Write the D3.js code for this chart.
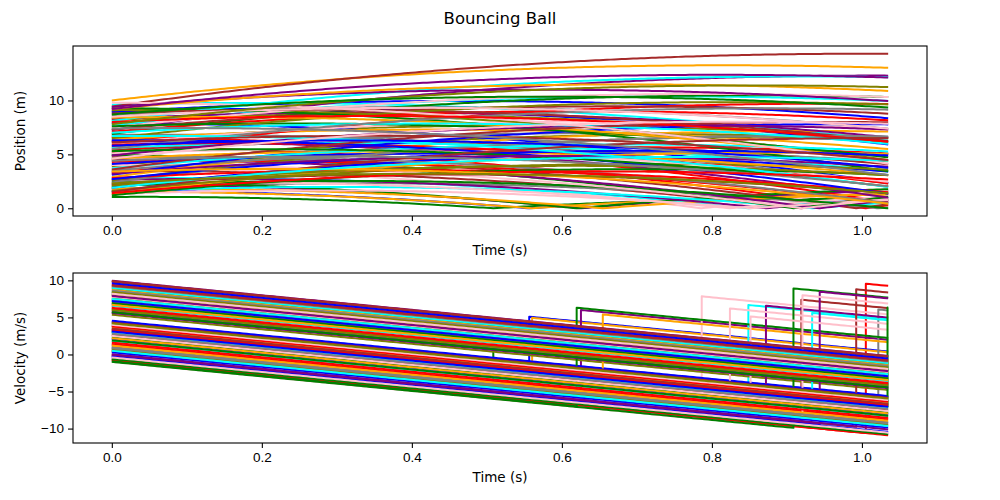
<!DOCTYPE html>
<html>
<head>
<meta charset="utf-8">
<script src="https://cdn.jsdelivr.net/npm/d3@7"></script>
<style>
  body { margin: 0; background: #fff; }
  svg { font-family: "DejaVu Sans", sans-serif; }
  .axis text { font-size: 13.5px; fill: #000; }
  .axis path, .axis line { stroke: #000; stroke-width: 1.1px; }
</style>
</head>
<body>
<div id="chart"></div>
<script>
// colour cycle, one colour per ball (index % 10)
const colorCycle = ["red", "blue", "green", "orange", "purple", "cyan", "brown", "pink", "gray", "olive"];

// starting height (m) of each ball at t = 0
const startHeights = [
  5.71, 1.63, 1.05, 1.54, 2.25, 2.76, 3.40, 3.82, 1.78, 6.2,
  6.6, 8.9, 2.46, 1.82, 2.64, 1.54, 4.86, 2.35, 5.0, 3.9,
  3.3, 9.0, 4.95, 10.0, 4.51, 9.6, 9.44, 1.30, 6.8, 8.2,
  4.3, 7.9, 2.05, 6.4, 7.26, 7.7, 5.4, 4.02, 8.6, 2.6,
  5.2, 1.9, 6.9, 2.9, 8.3, 5.6, 7.3, 6.0, 3.5, 9.1,
  7.1, 4.1, 9.3, 1.3, 6.2, 8.1, 2.2, 7.5, 4.7, 1.6,
  5.9, 3.1, 7.6, 4.6, 9.4, 3.7, 8.8, 5.1, 2.4, 6.5,
  2.8, 6.3, 1.2, 8.4, 4.9, 7.0, 3.6, 9.8, 5.5, 2.1,
  8.0, 2.7, 5.3, 9.2, 3.2, 6.7, 1.5, 8.5, 4.4, 7.8,
  1.4, 5.8, 8.7, 3.4, 9.2, 1.9, 6.1, 4.6, 7.4, 2.3
];

// starting velocity (m/s) of each ball at t = 0
const startVelocities = [
  -0.75, -0.2, 0.43, 0.0, -0.53, 0.91, 0.81, -1.0, 3.27, 5.36,
  -0.75, 4.55, -0.93, 0.43, 1.25, 2.93, -0.03, 1.19, 6.2, 7.6,
  6.8, 2.1, -0.99, 8.0, -0.15, 1.85, 9.8, 2.65, 0.72, 3.1,
  1.4, -0.3, 3.09, 4.2, 9.95, 7.25, 3.8, 0.15, 3.9, 8.9,
  9.4, 8.1, 8.38, 9.15, 3.42, 2.97, 6.5, 6.35, 5.9, 0.6,
  6.1, 4.4, -0.6, 8.7, 0.04, 9.0, 4.3, 7.8, 1.0, 7.0,
  1.6, 9.6, 2.3, 3.6, 5.6, 6.6, 2.6, 2.52, 9.2, 8.1,
  3.8, 0.3, 6.9, 1.2, 7.4, 4.1, 9.3, -0.4, 8.6, 6.0,
  3.3, 7.2, 1.9, 6.7, 5.7, 0.5, 9.9, 4.0, 2.8, 8.4,
  6.3, 3.1, 5.7, 2.2, 7.9, 7.5, 3.5, 8.2, 0.9, 4.2
];

const xTicks = [0, 0.2, 0.4, 0.6, 0.8, 1.0];
const positionTicks = [0, 5, 10];
const velocityTicks = [-10, -5, 0, 5, 10];

const gravity = 9.81;
const restitution = 0.9;
const endTime = 1.035;
const step = 0.005;

// run one ball forward, bouncing on the floor
function simulate(y0, v0) {
  const pts = [];
  let t0 = 0, y = y0, v = v0;
  while (t0 < endTime) {
    const hit = (v + Math.sqrt(v * v + 2 * gravity * y)) / gravity;
    const tb = t0 + hit;
    const segEnd = Math.min(tb, endTime);
    for (let t = t0; t < segEnd - 1e-9; t += step) {
      const s = t - t0;
      pts.push({ t: t, y: Math.max(0, y + v * s - 0.5 * gravity * s * s), v: v - gravity * s });
    }
    if (tb <= endTime) {
      const vBefore = v - gravity * hit;
      pts.push({ t: tb, y: 0, v: vBefore });
      v = -restitution * vBefore;
      y = 0;
      t0 = tb;
      pts.push({ t: tb, y: 0, v: v });
    } else {
      const s = endTime - t0;
      pts.push({ t: endTime, y: y + v * s - 0.5 * gravity * s * s, v: v - gravity * s });
      break;
    }
  }
  return pts;
}

const balls = startHeights.map((h, i) => ({
  color: colorCycle[i % colorCycle.length],
  points: simulate(h, startVelocities[i])
}));

const W = 1000, H = 500;
const left = 73, right = 927;
const panels = [
  { key: "y", label: "Position (m)", top: 46, bottom: 216, ticks: positionTicks },
  { key: "v", label: "Velocity (m/s)", top: 273, bottom: 443, ticks: velocityTicks }
];

const svg = d3.select("#chart").append("svg")
  .attr("width", W)
  .attr("height", H);

svg.append("text")
  .attr("x", W / 2)
  .attr("y", 24)
  .attr("text-anchor", "middle")
  .style("font-size", "16.5px")
  .text("Bouncing Ball");

const pad = endTime * 0.05;
const x = d3.scaleLinear()
  .domain([-pad, endTime + pad])
  .range([left, right]);

panels.forEach(p => {
  const all = balls.flatMap(b => b.points.map(d => d[p.key]));
  const [lo, hi] = d3.extent(all);
  const m = (hi - lo) * 0.05;
  const y = d3.scaleLinear()
    .domain([lo - m, hi + m])
    .range([p.bottom, p.top]);

  const g = svg.append("g");
  const line = d3.line()
    .x(d => x(d.t))
    .y(d => y(d[p.key]));

  g.selectAll("path.ball")
    .data(balls)
    .join("path")
    .attr("class", "ball")
    .attr("fill", "none")
    .attr("stroke", d => d.color)
    .attr("stroke-width", 2)
    .attr("stroke-linejoin", "round")
    .attr("d", d => line(d.points));

  g.append("rect")
    .attr("x", left)
    .attr("y", p.top)
    .attr("width", right - left)
    .attr("height", p.bottom - p.top)
    .attr("fill", "none")
    .attr("stroke", "#000")
    .attr("stroke-width", 1.1);

  svg.append("g")
    .attr("class", "axis")
    .attr("transform", `translate(0,${p.bottom})`)
    .call(d3.axisBottom(x).tickValues(xTicks).tickFormat(d3.format(".1f")).tickSizeOuter(0).tickSize(5).tickPadding(4))
    .call(a => a.select(".domain").remove());

  svg.append("g")
    .attr("class", "axis")
    .attr("transform", `translate(${left},0)`)
    .call(d3.axisLeft(y).tickValues(p.ticks).tickFormat(d3.format("d")).tickSizeOuter(0).tickSize(5).tickPadding(4))
    .call(a => a.select(".domain").remove());

  svg.append("text")
    .attr("x", (left + right) / 2)
    .attr("y", p.bottom + 39)
    .attr("text-anchor", "middle")
    .style("font-size", "13.5px")
    .text("Time (s)");

  svg.append("text")
    .attr("transform", `translate(25,${(p.top + p.bottom) / 2}) rotate(-90)`)
    .attr("text-anchor", "middle")
    .style("font-size", "13.5px")
    .text(p.label);
});
</script>
</body>
</html>
